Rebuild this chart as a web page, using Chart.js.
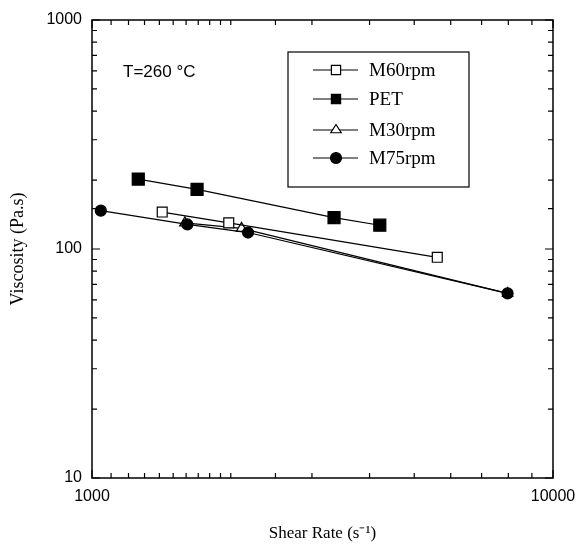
<!DOCTYPE html>
<html>
<head>
<meta charset="utf-8">
<script src="https://cdn.jsdelivr.net/npm/chart.js@4/dist/chart.umd.min.js"></script>
<style>
  html, body { margin: 0; padding: 0; background: #fff; }
  #wrap { width: 577px; height: 544px; }
</style>
</head>
<body>
<div id="wrap"><canvas id="c" width="577" height="544"></canvas></div>
<script>
// ---- data ----
const seriesNames = ['M60rpm', 'PET', 'M30rpm', 'M75rpm'];
const shearM60 = [1420, 1980, 5610];
const viscM60  = [145, 130, 92];
const shearPET = [1260, 1690, 3350, 4210];
const viscPET  = [202, 182, 137, 127];
const shearM30 = [1590, 2110, 7970];
const viscM30  = [130, 123, 64];
const shearM75 = [1045, 1610, 2180, 7970];
const viscM75  = [147, 128, 118, 64];
const xTickLabels = [1000, 10000];
const yTickLabels = [10, 100, 1000];
const annotationText = 'T=260 °C';

const pts = (xs, ys) => xs.map((x, i) => ({ x: x, y: ys[i] }));

const styles = [
  { pointStyle: 'rect', radius: 7, fill: '#ffffff' },
  { pointStyle: 'rect', radius: 8.5, fill: '#000000' },
  { pointStyle: 'triangle', radius: 6, fill: '#ffffff' },
  { pointStyle: 'circle', radius: 5.5, fill: '#000000' }
];
const seriesData = [pts(shearM60, viscM60), pts(shearPET, viscPET), pts(shearM30, viscM30), pts(shearM75, viscM75)];
const orders = [0, 0, 2, 1];

const datasets = seriesNames.map((name, i) => ({
  label: name,
  data: seriesData[i],
  borderColor: '#000',
  borderWidth: 1.2,
  backgroundColor: styles[i].fill,
  pointStyle: styles[i].pointStyle,
  pointRadius: styles[i].radius,
  pointHoverRadius: styles[i].radius,
  pointBackgroundColor: styles[i].fill,
  pointBorderColor: '#000',
  pointBorderWidth: 1.2,
  tension: 0,
  fill: false,
  order: orders[i]
}));

function drawMarker(ctx, style, r, fillColor, x, y) {
  ctx.save();
  ctx.fillStyle = fillColor;
  ctx.strokeStyle = '#000';
  ctx.lineWidth = 1.2;
  ctx.beginPath();
  if (style === 'rect') {
    const s = Math.SQRT1_2 * r;
    ctx.rect(x - s, y - s, 2 * s, 2 * s);
  } else if (style === 'circle') {
    ctx.arc(x, y, r, 0, Math.PI * 2);
  } else if (style === 'triangle') {
    const h = r * 1.5;
    ctx.moveTo(x, y - h * 2 / 3);
    ctx.lineTo(x + r * 0.95, y + h / 3);
    ctx.lineTo(x - r * 0.95, y + h / 3);
    ctx.closePath();
  }
  ctx.fill();
  ctx.stroke();
  ctx.restore();
}

const framePlugin = {
  id: 'frame',
  beforeDatasetsDraw(chart) {
    const { ctx, chartArea: a, scales } = chart;
    ctx.save();
    ctx.strokeStyle = '#000';
    ctx.lineWidth = 1.5;
    ctx.strokeRect(a.left, a.top, a.right - a.left, a.bottom - a.top);
    ctx.lineWidth = 1.2;
    ctx.beginPath();
    scales.x.ticks.forEach(t => {
      const px = scales.x.getPixelForValue(t.value);
      const major = Math.abs(Math.log10(t.value) % 1) < 1e-6;
      const len = major ? 8 : 5;
      ctx.moveTo(px, a.bottom); ctx.lineTo(px, a.bottom - len);
      ctx.moveTo(px, a.top); ctx.lineTo(px, a.top + len);
    });
    scales.y.ticks.forEach(t => {
      const py = scales.y.getPixelForValue(t.value);
      const major = Math.abs(Math.log10(t.value) % 1) < 1e-6;
      const len = major ? 8 : 5;
      ctx.moveTo(a.left, py); ctx.lineTo(a.left + len, py);
      ctx.moveTo(a.right, py); ctx.lineTo(a.right - len, py);
    });
    ctx.stroke();
    ctx.restore();
  },
  afterDraw(chart) {
    const { ctx } = chart;
    ctx.save();
    ctx.fillStyle = '#000';
    ctx.font = '17px "Liberation Sans", Arial, sans-serif';
    ctx.textBaseline = 'middle';
    ctx.textAlign = 'left';
    ctx.fillText(annotationText, 123, 72);
    const box = { l: 288, t: 52, r: 469, b: 187 };
    ctx.strokeStyle = '#000';
    ctx.lineWidth = 1.2;
    ctx.strokeRect(box.l, box.t, box.r - box.l, box.b - box.t);
    const rows = [70, 99, 130, 158];
    ctx.font = '19px "Liberation Serif", "Times New Roman", serif';
    chart.data.datasets.forEach((ds, i) => {
      const y = rows[i];
      ctx.beginPath();
      ctx.moveTo(313, y); ctx.lineTo(358, y);
      ctx.lineWidth = 1.2;
      ctx.stroke();
      drawMarker(ctx, ds.pointStyle, ds.pointStyle === 'rect' ? 6.5 : 5.5, ds.pointBackgroundColor, 336, y);
      ctx.fillStyle = '#000';
      ctx.fillText(ds.label, 369, y + 1);
    });
    ctx.restore();
  }
};

new Chart(document.getElementById('c'), {
  type: 'line',
  data: { datasets: datasets },
  plugins: [framePlugin],
  options: {
    responsive: false,
    animation: false,
    devicePixelRatio: 1,
    layout: { padding: { top: 20, right: 24, left: 0, bottom: 0 } },
    plugins: { legend: { display: false }, tooltip: { enabled: false } },
    scales: {
      x: {
        type: 'logarithmic',
        min: 1000, max: 10000,
        grid: { display: false, drawTicks: false },
        border: { display: false },
        afterFit(s) { s.height = 66; s.paddingLeft = 0; s.paddingRight = 0; },
        ticks: {
          autoSkip: false, maxRotation: 0, padding: 9, color: '#000',
          font: { family: '"Liberation Sans", Arial, sans-serif', size: 16 },
          callback: (v) => xTickLabels.includes(v) ? String(v) : ''
        },
        title: {
          display: true, text: 'Shear Rate (s⁻¹)', color: '#000',
          font: { family: '"Liberation Serif", "Times New Roman", serif', size: 17 },
          padding: { top: 0, bottom: 0 }
        }
      },
      y: {
        type: 'logarithmic',
        min: 10, max: 1000,
        grid: { display: false, drawTicks: false },
        border: { display: false },
        afterFit(s) { s.width = 92; s.paddingTop = 0; s.paddingBottom = 0; },
        ticks: {
          autoSkip: false, padding: 10, color: '#000',
          font: { family: '"Liberation Sans", Arial, sans-serif', size: 16 },
          callback: (v) => yTickLabels.includes(v) ? String(v) : ''
        },
        title: {
          display: true, text: 'Viscosity (Pa.s)', color: '#000',
          font: { family: '"Liberation Serif", "Times New Roman", serif', size: 18 },
          padding: { top: 7, bottom: 0 }
        }
      }
    }
  }
});
</script>
</body>
</html>
